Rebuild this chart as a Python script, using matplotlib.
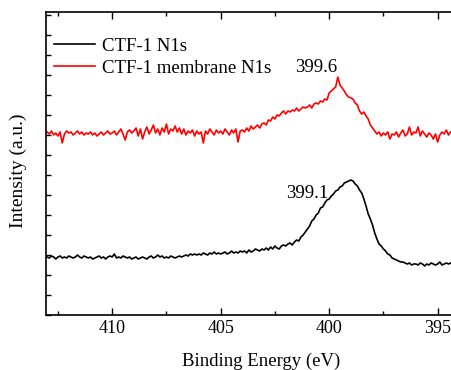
import numpy as np
import matplotlib
matplotlib.use("Agg")
import matplotlib.pyplot as plt
from matplotlib.ticker import MultipleLocator

plt.rcParams['font.family'] = ['Liberation Serif', 'DejaVu Serif']

# binding energy grid (eV), 413.0 -> 394.4 in 0.1 eV steps
energy = np.round(np.arange(413.0, 394.35, -0.1), 1)

# CTF-1 membrane N1s (red), intensity a.u.
membrane_n1s = [
    183, 181, 184, 180, 182, 179, 183, 172, 181, 184,
    182, 183, 180, 182, 184, 181, 183, 180, 182, 181,
    183, 180, 182, 179, 181, 183, 180, 182, 184, 181,
    182, 184, 180, 183, 186, 181, 175, 183, 185, 182,
    184, 187, 179, 186, 176, 183, 188, 181, 185, 190,
    182, 186, 180, 187, 183, 191, 181, 186, 184, 189,
    183, 187, 181, 186, 180, 184, 182, 185, 179, 184,
    181, 183, 172, 184, 181, 186, 183, 180, 185, 182,
    184, 181, 186, 183, 180, 185, 182, 186, 173, 184,
    185, 183, 187, 184, 189, 186, 188, 190, 187, 191,
    192, 190, 195, 194, 198, 196, 200, 199, 202, 204,
    201, 204, 203, 205, 204, 207, 204, 206, 208, 207,
    208, 210, 207, 211, 212, 211, 214, 213, 216, 215,
    222, 224, 226, 228, 238, 230, 227, 224, 220, 218,
    217, 216, 212, 210, 204, 201, 203, 199, 196, 190,
    187, 184, 181, 183, 179, 182, 180, 183, 176, 181,
    180, 183, 178, 182, 185, 179, 181, 188, 180, 183,
    182, 188, 179, 184, 181, 178, 182, 180, 176, 181,
    173, 180, 183, 181, 185, 180, 183,
]

# CTF-1 N1s (black)
ctf1_n1s = [
    58, 57, 59, 58, 56, 58, 59, 57, 58, 57,
    59, 58, 57, 58, 60, 58, 57, 59, 58, 57,
    58, 56, 57, 58, 59, 57, 58, 56, 58, 59,
    58, 61, 57, 58, 57, 59, 58, 57, 58, 56,
    57, 58, 56, 57, 58, 57, 56, 58, 59, 57,
    58, 60, 58, 59, 57, 58, 57, 59, 58, 57,
    58, 59, 58, 59, 60, 59, 61, 60, 61, 60,
    61, 60, 62, 61, 60, 62, 61, 63, 61, 62,
    61, 62, 63, 61, 62, 64, 62, 63, 62, 64,
    63, 64, 62, 65, 63, 64, 66, 65, 64, 66,
    65, 67, 65, 68, 66, 69, 67, 66, 69, 70,
    69, 71, 72, 70, 73, 75, 74, 78, 80, 83,
    86, 89, 94, 96, 100, 102, 107, 108, 112, 115,
    116, 119, 121, 124, 125, 128, 129, 132, 133, 134,
    135, 134, 131, 129, 125, 122, 116, 109, 101, 96,
    90, 82, 76, 71, 69, 66, 64, 61, 60, 57,
    56, 55, 54, 53, 53, 52, 51, 52, 50, 51,
    51, 50, 52, 51, 49, 51, 50, 52, 51, 50,
    51, 53, 50, 51, 52, 51, 52,
]

fig = plt.figure(figsize=(4.51, 3.70), dpi=100)
ax = fig.add_axes([46 / 451, 55 / 370, 409 / 451, 303 / 370])

ax.plot(energy, ctf1_n1s, color='black', lw=1.2, label='CTF-1 N1s')
ax.plot(energy, membrane_n1s, color='red', lw=1.2, label='CTF-1 membrane N1s')

ax.text(400.6, 248, '399.6', fontsize=13.5, ha='center', va='center')
ax.text(401.0, 122, '399.1', fontsize=13.5, ha='center', va='center')

ax.set_xlim(413.05, 394.2)
ax.set_ylim(0, 303)
ax.xaxis.set_major_locator(MultipleLocator(5))
ax.xaxis.set_minor_locator(MultipleLocator(2.5))
ax.yaxis.set_major_locator(MultipleLocator(20))
ax.set_yticklabels([])
ax.tick_params(which='both', direction='in', top=True, right=False, width=1)
ax.tick_params(which='major', length=5, labelsize=13)
ax.tick_params(axis='x', which='minor', length=3)
ax.tick_params(axis='y', length=3.5)
for s in ax.spines.values():
    s.set_linewidth(1.2)

ax.set_xlabel('Binding Energy (eV)', fontsize=13.5)
ax.set_ylabel('Intensity (a.u.)', fontsize=14)
ax.xaxis.set_label_coords(0.526, -0.125)
ax.yaxis.set_label_coords(-0.046, 0.475)

ax.legend(loc='upper left', frameon=False, fontsize=13.5, handlelength=2.2,
          handletextpad=0.35, labelspacing=0.25, borderaxespad=0.3,
          bbox_to_anchor=(-0.012, 0.958))

fig.savefig('out.png', dpi=100)
